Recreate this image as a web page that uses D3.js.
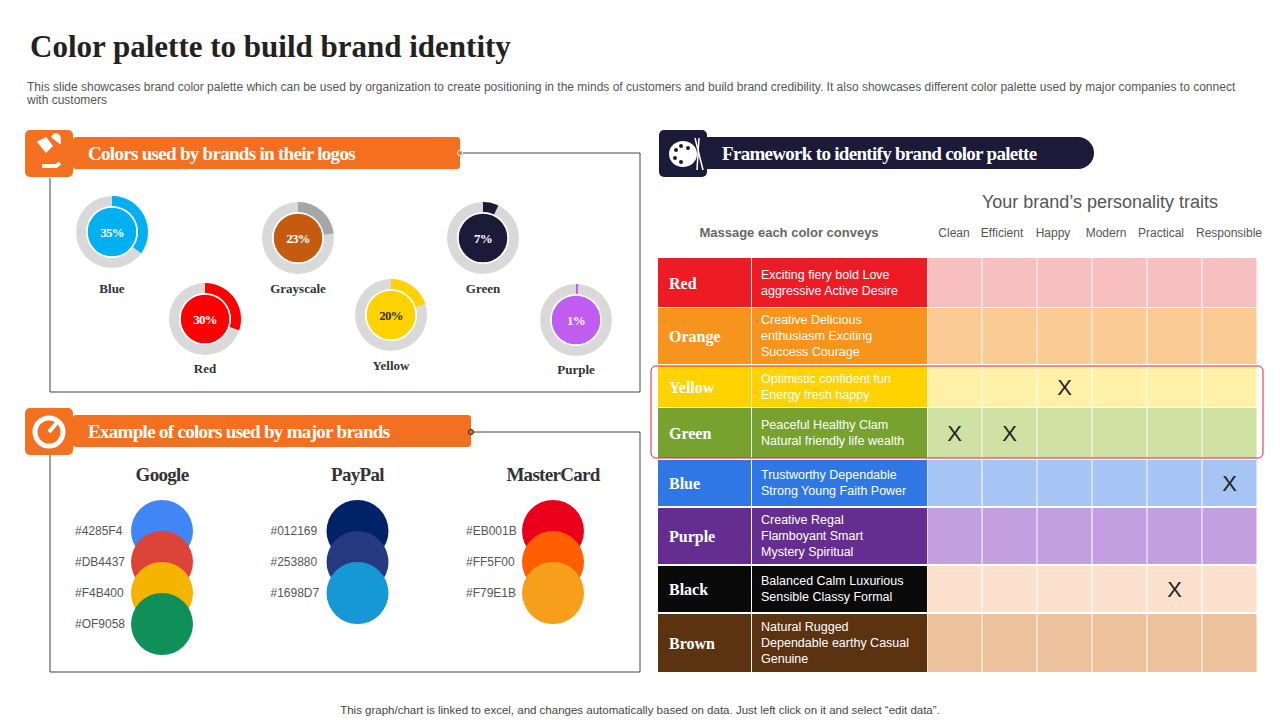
<!DOCTYPE html>
<html><head><meta charset="utf-8">
<script src="https://cdn.jsdelivr.net/npm/d3@7"></script>
<style>body{margin:0;background:#fff}svg{display:block}</style>
</head><body>
<script>
/* Logo colour shares */
var logoNames = ['Blue', 'Red', 'Grayscale', 'Yellow', 'Green', 'Purple'];
var logoShares = [35, 30, 23, 20, 7, 1];
var logoArc = ['#00B0F0', '#FF0000', '#A6A6A6', '#FFD200', '#1B1A38', '#C15CF0'];
var logoFill = ['#00B0F0', '#FF0000', '#C55A11', '#FFD200', '#1B1A38', '#C15CF0'];

/* Brand examples */
var brands = ['Google', 'PayPal', 'MasterCard'];
var brandHex = [
  ['#4285F4', '#DB4437', '#F4B400', '#0F9058'],
  ['#012169', '#253880', '#1698D7'],
  ['#EB001B', '#FF5F00', '#F79E1B']
];
var brandLabels = [
  ['#4285F4', '#DB4437', '#F4B400', '#OF9058'],
  ['#012169', '#253880', '#1698D7'],
  ['#EB001B', '#FF5F00', '#F79E1B']
];

/* Framework table */
var traits = ['Clean', 'Efficient', 'Happy', 'Modern', 'Practical', 'Responsible'];
var colorNames = ['Red', 'Orange', 'Yellow', 'Green', 'Blue', 'Purple', 'Black', 'Brown'];
var messages = [
  ['Exciting fiery  bold Love', 'aggressive  Active Desire'],
  ['Creative  Delicious', 'enthusiasm Exciting', 'Success Courage'],
  ['Optimistic confident fun', 'Energy fresh happy'],
  ['Peaceful Healthy Clam', 'Natural friendly  life wealth'],
  ['Trustworthy Dependable', 'Strong Young Faith Power'],
  ['Creative  Regal', 'Flamboyant Smart', 'Mystery  Spiritual'],
  ['Balanced Calm Luxurious', 'Sensible Classy Formal'],
  ['Natural Rugged', 'Dependable earthy Casual', 'Genuine']
];
var marks = [[], [], ['Happy'], ['Clean', 'Efficient'], ['Responsible'], [], ['Practical'], []];
var rowDark = ['#ED1C24', '#F7941D', '#FFD200', '#77A22F', '#2E77E5', '#662D91', '#0A0A0A', '#5C3310'];
var rowLight = ['#F8BFC1', '#FBCB96', '#FFF2A8', '#D0E1A4', '#A6C4F4', '#C49FE0', '#FDE1CF', '#ECC29C'];

var svg = d3.select('body').append('svg').attr('width', 1280).attr('height', 720);
var serif = '"Liberation Serif", "DejaVu Serif", serif';
var sans = 'Arial, "Liberation Sans", sans-serif';

svg.append('text').attr('x', 30).attr('y', 57).attr('font-family', serif).attr('font-weight', 'bold')
  .attr('font-size', 31).attr('fill', '#222').text('Color palette to build brand identity');
svg.append('text').attr('font-family', sans).attr('font-size', 12).attr('fill', '#555')
  .selectAll('tspan').data([
    'This slide showcases brand color palette which can be used by organization to create positioning in the minds of customers and build brand credibility. It also showcases different color palette used by major companies to connect',
    'with customers'])
  .join('tspan').attr('x', 27).attr('y', function(d, i) { return 91 + i * 13; })
  .text(function(d) { return d; });

function header(x, y, w, label, color, roundEnd) {
  svg.append('rect').attr('x', x + 48).attr('y', y + 7).attr('width', w).attr('height', 32)
    .attr('rx', roundEnd ? 16 : 3).attr('fill', color);
  if (roundEnd) svg.append('rect').attr('x', x + 48).attr('y', y + 7).attr('width', 20).attr('height', 32).attr('fill', color);
  svg.append('rect').attr('x', x).attr('y', y).attr('width', 48).attr('height', 47).attr('rx', 5).attr('fill', color);
  svg.append('text').attr('x', x + 63).attr('y', y + 30).attr('font-family', serif).attr('font-size', 19)
    .attr('font-weight', 'bold').attr('letter-spacing', -0.7).attr('fill', '#fff').text(label);
}

/* ---- Panel 1 ---- */
svg.append('path').attr('d', 'M460,153H640V392H50V178').attr('fill', 'none').attr('stroke', '#444');
header(25, 130, 387, 'Colors used by brands in their logos', '#F37021');
svg.append('circle').attr('cx', 460).attr('cy', 153).attr('r', 2.5).attr('fill', '#F37021').attr('stroke', '#fff');
svg.append('path').attr('d', 'M38,142l8,-4 6,8 -6,6z M52,138a4,4 0 0,1 8,0v6').attr('fill', '#fff').attr('stroke', '#fff').attr('stroke-width', 1.5);
svg.append('path').attr('d', 'M42,166h14l4,-3').attr('stroke', '#fff').attr('stroke-width', 4).attr('fill', 'none');

var donutPos = [[112, 232, 289], [205, 319, 369], [298, 238, 289], [391, 315, 366], [483, 238, 289], [576, 320, 370]];
var pct = d3.scaleLinear().domain([0, 100]).range([0, 2 * Math.PI]);
var arc = d3.arc().innerRadius(26).outerRadius(36);
logoNames.forEach(function(n, i) {
  var g = svg.append('g').attr('transform', 'translate(' + donutPos[i][0] + ',' + donutPos[i][1] + ')');
  g.append('path').attr('d', arc({startAngle: 0, endAngle: 2 * Math.PI})).attr('fill', '#D9D9D9');
  g.append('path').attr('d', arc({startAngle: 0, endAngle: pct(logoShares[i])})).attr('fill', logoArc[i]);
  g.append('circle').attr('r', 25).attr('fill', logoFill[i]).attr('stroke', '#fff').attr('stroke-width', 1.5);
  g.append('text').attr('y', 5).attr('text-anchor', 'middle').attr('font-family', serif).attr('font-size', 13)
    .attr('font-weight', 'bold').attr('letter-spacing', -0.8)
    .attr('fill', n === 'Yellow' ? '#333' : '#fff').text(logoShares[i] + '%');
  svg.append('text').attr('x', donutPos[i][0]).attr('y', donutPos[i][2] + 4).attr('text-anchor', 'middle')
    .attr('font-family', serif).attr('font-weight', 'bold').attr('font-size', 13).attr('fill', '#333').text(n);
});

/* ---- Panel 2 ---- */
svg.append('path').attr('d', 'M471,432H640V672H50V455').attr('fill', 'none').attr('stroke', '#444');
header(25, 408, 398, 'Example of colors used by major brands', '#F37021');
svg.append('circle').attr('cx', 471).attr('cy', 432).attr('r', 2.5).attr('fill', '#F37021').attr('stroke', '#222');
svg.append('circle').attr('cx', 49).attr('cy', 432).attr('r', 14).attr('fill', 'none').attr('stroke', '#fff').attr('stroke-width', 5);
svg.append('path').attr('d', 'M49,432l10,-12').attr('stroke', '#fff').attr('stroke-width', 4);

var brandX = d3.scalePoint().domain(brands).range([162, 553]);
var stackY = d3.scaleLinear().domain([0, 1]).range([531, 562]);
brands.forEach(function(b, bi) {
  var cx = brandX(b);
  svg.append('text').attr('x', cx).attr('y', 481).attr('text-anchor', 'middle').attr('font-family', serif)
    .attr('font-weight', 'bold').attr('font-size', 19).attr('letter-spacing', -0.7).attr('fill', '#333').text(b);
  brandHex[bi].forEach(function(h, k) {
    svg.append('circle').attr('cx', cx).attr('cy', stackY(k)).attr('r', 31).attr('fill', h);
    svg.append('text').attr('x', cx - 87).attr('y', stackY(k) + 4).attr('font-family', sans).attr('font-size', 12)
      .attr('fill', '#555').text(brandLabels[bi][k]);
  });
});

/* ---- Panel 3 ---- */
header(659, 130, 387, 'Framework to identify brand color palette', '#1B1A38', true);
var pg = svg.append('g').attr('transform', 'translate(683,154)');
pg.append('ellipse').attr('rx', 14).attr('ry', 13).attr('fill', '#fff');
[[-7, -4], [-2, -8], [5, -6], [-8, 4], [-2, 8]].forEach(function(p) {
  pg.append('circle').attr('cx', p[0]).attr('cy', p[1]).attr('r', 2).attr('fill', '#1B1A38');
});
pg.append('path').attr('d', 'M12,-16L20,16M16,-16L14,16').attr('stroke', '#fff').attr('stroke-width', 1.5);

svg.append('text').attr('x', 1100).attr('y', 208).attr('text-anchor', 'middle').attr('font-family', sans)
  .attr('font-size', 18).attr('fill', '#555').text('Your brand\u2019s personality traits');
svg.append('text').attr('x', 789).attr('y', 237).attr('text-anchor', 'middle').attr('font-family', sans)
  .attr('font-size', 13).attr('font-weight', 'bold').attr('fill', '#666').text('Massage each color conveys');

var traitX = d3.scaleBand().domain(traits).range([927, 1257]);
var headX = [954, 1002, 1053, 1106, 1161, 1229];
traits.forEach(function(t, i) {
  svg.append('text').attr('x', headX[i]).attr('y', 237).attr('text-anchor', 'middle').attr('font-family', sans)
    .attr('font-size', 12).attr('fill', '#555').text(t);
});

var rowTop = [258, 308, 366, 408, 460, 508, 566, 614];
var rowBot = [307, 364, 407, 458, 506, 564, 612, 672];
colorNames.forEach(function(c, i) {
  var y = rowTop[i], h = rowBot[i] - rowTop[i], mid = y + h / 2;
  svg.append('rect').attr('x', 658).attr('y', y).attr('width', 93).attr('height', h).attr('fill', rowDark[i]);
  svg.append('rect').attr('x', 752).attr('y', y).attr('width', 175).attr('height', h).attr('fill', rowDark[i]);
  svg.append('text').attr('x', 669).attr('y', mid + 6).attr('font-family', serif).attr('font-weight', 'bold')
    .attr('font-size', 16).attr('fill', '#fff').text(c);
  var lines = messages[i];
  svg.append('text').attr('font-family', sans).attr('font-size', 12.5).attr('fill', '#fff')
    .selectAll('tspan').data(lines).join('tspan')
    .attr('x', 761).attr('y', function(d, k) { return mid + 4 + (k - (lines.length - 1) / 2) * 16; })
    .text(function(d) { return d; });
  traits.forEach(function(t) {
    svg.append('rect').attr('x', traitX(t) + 0.5).attr('y', y).attr('width', traitX.bandwidth() - 1).attr('height', h)
      .attr('fill', rowLight[i]);
  });
  marks[i].forEach(function(t) {
    svg.append('text').attr('x', traitX(t) + traitX.bandwidth() / 2).attr('y', mid + 8).attr('text-anchor', 'middle')
      .attr('font-family', sans).attr('font-size', 22).attr('fill', '#222').text('X');
  });
});
svg.append('rect').attr('x', 651).attr('y', 366).attr('width', 612).attr('height', 92).attr('rx', 5)
  .attr('fill', 'none').attr('stroke', '#E0203A').attr('stroke-width', 1);

svg.append('text').attr('x', 640).attr('y', 714).attr('text-anchor', 'middle').attr('font-family', sans)
  .attr('font-size', 11.5).attr('fill', '#444')
  .text('This graph/chart is linked to excel, and changes automatically based on data. Just left click on it and select \u201cedit data\u201d.');
</script>
</body></html>
